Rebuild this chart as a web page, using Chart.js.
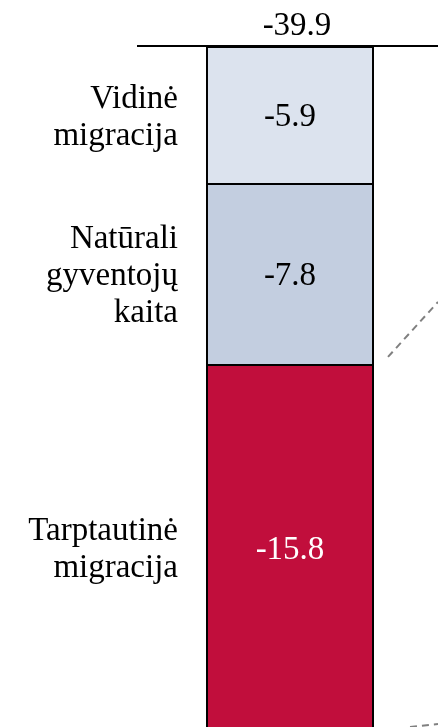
<!DOCTYPE html>
<html>
<head>
<meta charset="utf-8">
<script src="https://cdn.jsdelivr.net/npm/chart.js@4"></script>
<style>
    html, body { margin: 0; padding: 0; background: #fff; }
    canvas { display: block; }
</style>
</head>
<body>
<canvas id="chart" width="438" height="727"></canvas>
<script>
const categories = [["Vidinė", "migracija"], ["Natūrali", "gyventojų", "kaita"], ["Tarptautinė", "migracija"]];
const values = [-5.9, -7.8, -15.8];
const totalLabel = "-39.9";
const colors = ["#dce3ee", "#c3cee0", "#c10e3c"];
const textColors = ["#000", "#000", "#fff"];

const FONT = "33px 'Liberation Serif', serif";

const labelPlugin = {
    id: "segmentLabels",
    afterDatasetsDraw(chart) {
        const ctx = chart.ctx;
        const area = chart.chartArea;
        ctx.save();

        // zero line
        const y0 = chart.scales.y.getPixelForValue(0);
        ctx.strokeStyle = "#000";
        ctx.lineWidth = 2;
        ctx.beginPath();
        ctx.moveTo(area.left - 5, y0 - 1);
        ctx.lineTo(area.right, y0 - 1);
        ctx.stroke();

        ctx.font = FONT;
        ctx.textBaseline = "middle";
        let firstBar = null;
        values.forEach((v, i) => {
            const bar = chart.getDatasetMeta(i).data[0];
            if (!firstBar) firstBar = bar;
            const top = Math.max(Math.min(bar.y, bar.base), area.top);
            const bottom = Math.min(Math.max(bar.y, bar.base), area.bottom + 5);
            const mid = (top + bottom) / 2 + 2;

            // value inside the segment
            ctx.fillStyle = textColors[i];
            ctx.textAlign = "center";
            ctx.fillText(String(v), bar.x, mid);

            // category name on the left
            ctx.fillStyle = "#000";
            ctx.textAlign = "right";
            const lines = categories[i];
            const lh = 37;
            lines.forEach((line, j) => {
                ctx.fillText(line, bar.x - bar.width / 2 - 28, mid + (j - (lines.length - 1) / 2) * lh);
            });
        });

        // total above the bar
        ctx.fillStyle = "#000";
        ctx.textAlign = "center";
        ctx.fillText(totalLabel, firstBar.x + 7, area.top - 21);

        // dashed connectors towards the right
        const right = firstBar.x + firstBar.width / 2;
        const split = chart.getDatasetMeta(1).data[0].y;
        ctx.strokeStyle = "#808080";
        ctx.lineWidth = 2;
        ctx.setLineDash([7, 5]);
        ctx.beginPath();
        ctx.moveTo(right + 14, split - 8);
        ctx.lineTo(area.right, split - 8 - (area.right - right - 14) * 1.1);
        ctx.stroke();
        ctx.beginPath();
        ctx.moveTo(right + 36, area.bottom);
        ctx.lineTo(area.right, area.bottom - 3);
        ctx.stroke();
        ctx.restore();
    }
};

new Chart(document.getElementById("chart"), {
    type: "bar",
    data: {
        labels: [""],
        datasets: values.map((v, i) => ({
            label: categories[i].join(" "),
            data: [v],
            backgroundColor: colors[i],
            borderColor: "#000",
            borderWidth: { top: 1, bottom: 1, left: 2, right: 2 },
            borderSkipped: false,
            barPercentage: 0.5676,
            categoryPercentage: 1,
        })),
    },
    options: {
        responsive: false,
        animation: false,
        devicePixelRatio: 1,
        layout: { padding: { top: 47, left: 142, right: 0, bottom: 0 } },
        plugins: { legend: { display: false }, tooltip: { enabled: false } },
        scales: {
            x: { display: false, stacked: true },
            y: { display: false, stacked: true, min: -29.3, max: 0 },
        },
    },
    plugins: [labelPlugin],
});
</script>
</body>
</html>
